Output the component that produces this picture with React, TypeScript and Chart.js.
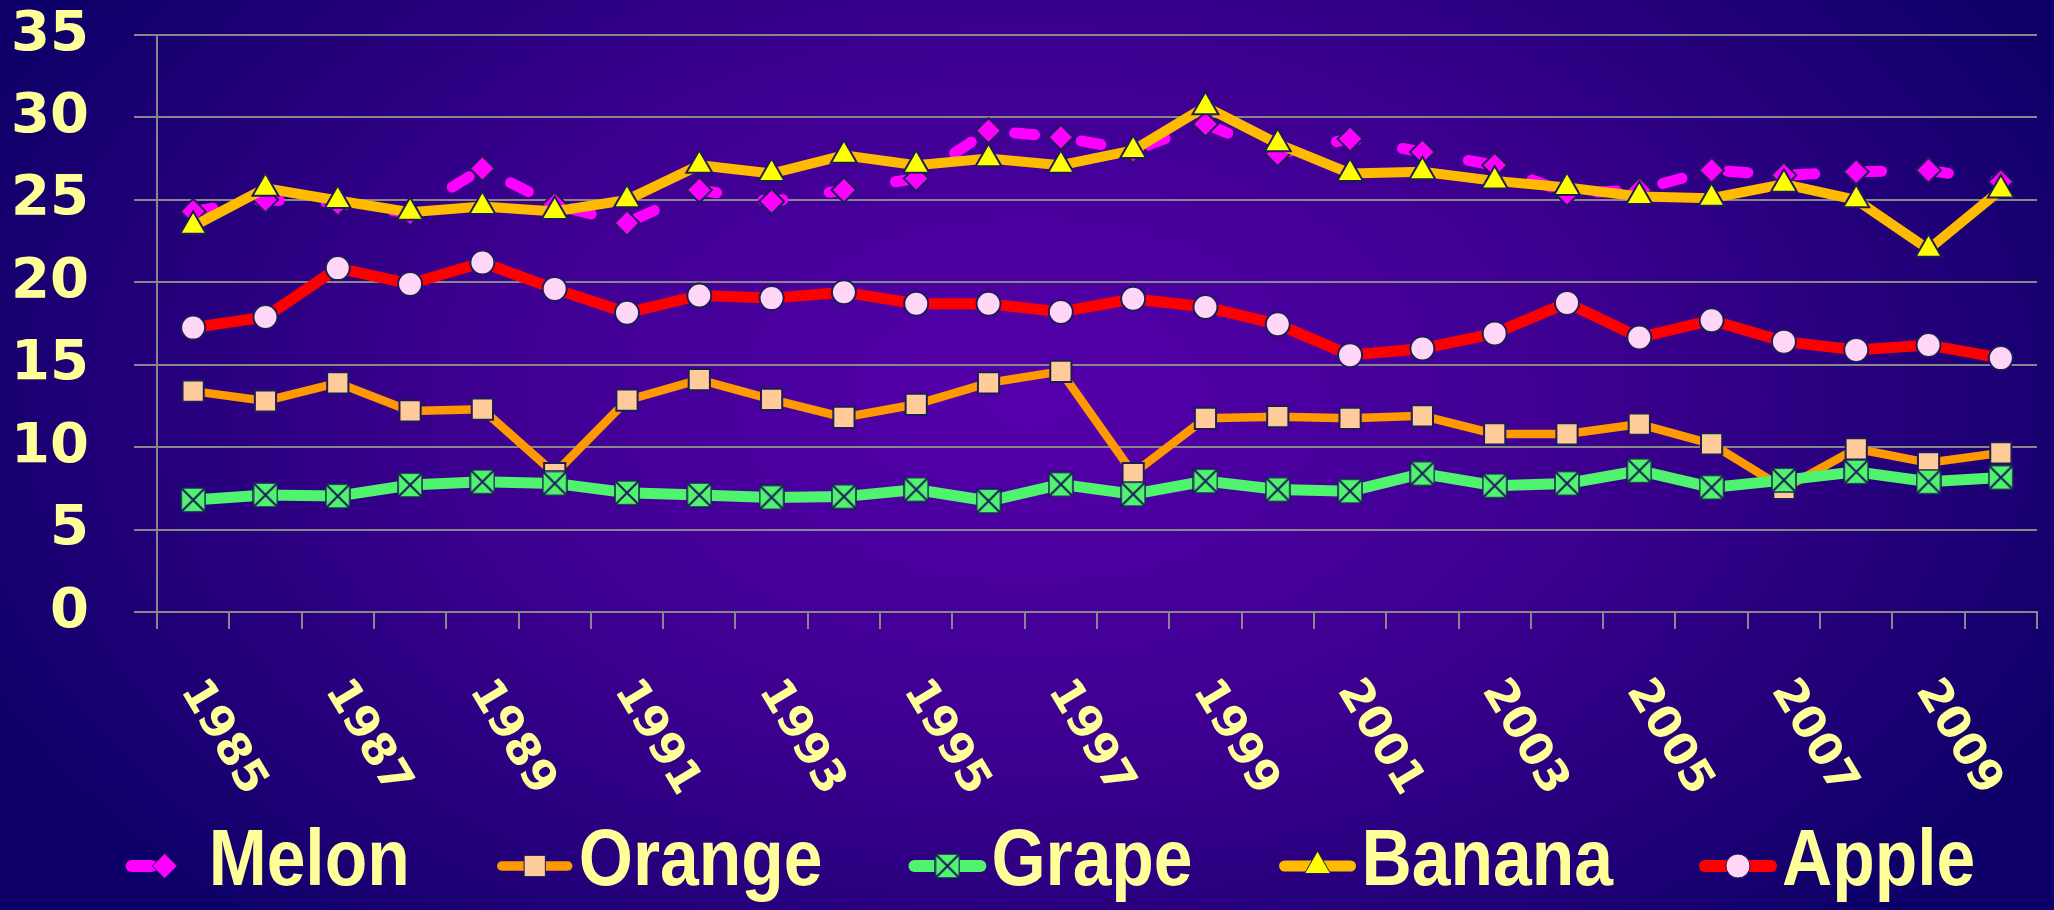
import React, { useEffect, useRef } from 'react';
import { Chart, registerables } from 'chart.js';
import { drawPoint } from 'chart.js/helpers';

Chart.register(...registerables);

// ---------- data ----------
const years = [
  '1985', '1986', '1987', '1988', '1989', '1990', '1991', '1992', '1993', '1994',
  '1995', '1996', '1997', '1998', '1999', '2000', '2001', '2002', '2003', '2004',
  '2005', '2006', '2007', '2008', '2009', '2010',
];
const xTickLabels = ['1985', '1987', '1989', '1991', '1993', '1995', '1997', '1999', '2001', '2003', '2005', '2007', '2009'];
const yTicks = [0, 5, 10, 15, 20, 25, 30, 35];

const melon = [24.3, 25.0, 24.8, 24.2, 26.9, 24.7, 23.6, 25.6, 24.9, 25.6, 26.3, 29.2, 28.8, 28.0, 29.6, 27.8, 28.7, 27.9, 27.1, 25.4, 25.6, 26.8, 26.5, 26.7, 26.8, 26.1];
const orange = [13.4, 12.8, 13.9, 12.2, 12.3, 8.4, 12.85, 14.1, 12.9, 11.8, 12.6, 13.9, 14.6, 8.4, 11.75, 11.85, 11.75, 11.9, 10.8, 10.8, 11.4, 10.2, 7.5, 9.9, 9.05, 9.65];
const grape = [6.8, 7.1, 7.03, 7.7, 7.9, 7.8, 7.23, 7.1, 6.95, 7.0, 7.43, 6.73, 7.74, 7.15, 7.94, 7.43, 7.33, 8.4, 7.66, 7.8, 8.57, 7.56, 8.0, 8.5, 7.9, 8.16];
const banana = [23.4, 25.7, 24.96, 24.25, 24.6, 24.3, 25.0, 27.1, 26.6, 27.7, 27.1, 27.5, 27.1, 28.0, 30.65, 28.4, 26.6, 26.7, 26.15, 25.75, 25.2, 25.1, 25.95, 25.0, 22.0, 25.6];
const apple = [17.25, 17.9, 20.86, 19.9, 21.2, 19.6, 18.15, 19.2, 19.04, 19.4, 18.7, 18.7, 18.2, 19.0, 18.5, 17.45, 15.58, 15.98, 16.9, 18.75, 16.65, 17.7, 16.4, 15.9, 16.2, 15.4];

// ---------- styles ----------
const TEXT = '#ffff99';
const GRID = '#888888';
const EDGE = '#1c1c5c';
const TICK_FONT = '"DejaVu Sans", sans-serif';
const LEGEND_FONT = 'bold 80px "Liberation Sans", Arial, sans-serif';
const LEGEND_SQUEEZE = 0.87;

function makeGrapeMarker(): HTMLCanvasElement {
  const c = document.createElement('canvas');
  c.width = 26;
  c.height = 26;
  const g = c.getContext('2d')!;
  g.fillStyle = '#4ff36d';
  g.fillRect(1, 1, 24, 24);
  g.strokeStyle = EDGE;
  g.lineWidth = 1.5;
  g.strokeRect(1, 1, 24, 24);
  g.lineWidth = 2;
  g.beginPath();
  g.moveTo(1.5, 1.5);
  g.lineTo(24.5, 24.5);
  g.moveTo(24.5, 1.5);
  g.lineTo(1.5, 24.5);
  g.stroke();
  return c;
}

const textPlugin = {
  id: 'textPlugin',
  afterDraw(chart: any) {
    const ctx: CanvasRenderingContext2D = chart.ctx;
    const xs = chart.scales.x;
    // rotated x labels
    ctx.save();
    ctx.fillStyle = TEXT;
    ctx.font = `bold 45px ${TICK_FONT}`;
    ctx.textAlign = 'left';
    ctx.textBaseline = 'middle';
    years.forEach((lab, i) => {
      if (!xTickLabels.includes(lab)) return;
      const x = xs.getPixelForValue(i);
      ctx.save();
      ctx.translate(x - 3, xs.top + 72);
      ctx.rotate((59 * Math.PI) / 180);
      ctx.fillText(lab, 0, 0);
      ctx.restore();
    });
    ctx.restore();

    // legend
    const dsets = chart.data.datasets;
    ctx.save();
    ctx.font = LEGEND_FONT;
    const markerW = 76;
    const gapText = 6;
    const itemGap = 87;
    const textW = dsets.map((d: any) => ctx.measureText(d.label).width * LEGEND_SQUEEZE);
    const widths = textW.map((w: number) => markerW + gapText + w);
    const total = widths.reduce((a: number, b: number) => a + b, 0) + itemGap * (dsets.length - 1);
    let x = 1051 - total / 2;
    const ly = 866;
    dsets.forEach((d: any, i: number) => {
      ctx.save();
      ctx.strokeStyle = d.borderColor;
      ctx.lineWidth = d.borderWidth + 1;
      ctx.lineCap = 'round';
      ctx.setLineDash(d.borderDash || []);
      ctx.beginPath();
      ctx.moveTo(x + 5, ly);
      ctx.lineTo(x + markerW - 5, ly);
      ctx.stroke();
      ctx.restore();
      ctx.save();
      ctx.fillStyle = d.pointBackgroundColor;
      ctx.strokeStyle = d.pointBorderColor;
      drawPoint(ctx, { pointStyle: d.pointStyle, radius: d.pointRadius, borderWidth: d.pointBorderWidth, rotation: 0 } as any, x + markerW / 2, ly);
      ctx.restore();
      ctx.save();
      ctx.fillStyle = TEXT;
      ctx.textAlign = 'left';
      ctx.textBaseline = 'middle';
      ctx.translate(x + markerW + gapText, ly - 3);
      ctx.scale(LEGEND_SQUEEZE, 1);
      ctx.fillText(d.label, 0, 0);
      ctx.restore();
      x += widths[i] + itemGap;
    });
    ctx.restore();
  },
};

export default function App() {
  const ref = useRef<HTMLCanvasElement | null>(null);

  useEffect(() => {
    document.body.style.margin = '0';
    const canvas = ref.current;
    if (!canvas) return;
    const grapeMarker = makeGrapeMarker();
    const chart = new Chart(canvas, {
      type: 'line',
      data: {
        labels: years,
        datasets: [
          {
            label: 'Melon',
            data: melon,
            borderColor: '#ff00ff',
            borderWidth: 11,
            borderDash: [20, 47],
            borderCapStyle: 'round',
            pointStyle: 'rectRot',
            pointRadius: 12.5,
            pointBackgroundColor: '#ff00ff',
            pointBorderColor: EDGE,
            pointBorderWidth: 2,
            tension: 0,
            order: 5,
          },
          {
            label: 'Orange',
            data: orange,
            borderColor: '#ff9900',
            borderWidth: 8.5,
            pointStyle: 'rect',
            pointRadius: 15,
            pointBackgroundColor: '#ffcc99',
            pointBorderColor: EDGE,
            pointBorderWidth: 2,
            tension: 0,
            order: 4,
          },
          {
            label: 'Grape',
            data: grape,
            borderColor: '#4ff36d',
            borderWidth: 11,
            pointStyle: grapeMarker as any,
            pointRadius: 12,
            pointBackgroundColor: '#4ff36d',
            pointBorderColor: EDGE,
            pointBorderWidth: 2,
            tension: 0,
            order: 3,
          },
          {
            label: 'Banana',
            data: banana,
            borderColor: '#ffbb00',
            borderWidth: 10,
            pointStyle: 'triangle',
            pointRadius: 15,
            pointBackgroundColor: '#ffff00',
            pointBorderColor: EDGE,
            pointBorderWidth: 2,
            tension: 0,
            order: 2,
          },
          {
            label: 'Apple',
            data: apple,
            borderColor: '#ff0000',
            borderWidth: 11,
            pointStyle: 'circle',
            pointRadius: 12,
            pointBackgroundColor: '#ffd6f6',
            pointBorderColor: EDGE,
            pointBorderWidth: 2,
            tension: 0,
            order: 1,
          },
        ],
      },
      options: {
        responsive: false,
        animation: false,
        layout: { padding: { top: 35, right: 15, left: 0, bottom: 0 } },
        plugins: {
          legend: { display: false },
          tooltip: { enabled: false },
        },
        scales: {
          x: {
            type: 'category',
            offset: true,
            grid: {
              offset: true,
              display: true,
              drawOnChartArea: false,
              drawTicks: true,
              tickLength: 17,
              color: GRID,
              lineWidth: 2,
            },
            border: { display: true, color: GRID, width: 2 },
            ticks: { display: false },
            afterFit: (s: any) => {
              s.height = 298;
              s.paddingLeft = 0;
              s.paddingRight = 0;
            },
          },
          y: {
            min: 0,
            max: 35,
            afterBuildTicks: (s: any) => {
              s.ticks = yTicks.map((v) => ({ value: v }));
            },
            ticks: {
              color: TEXT,
              font: { family: TICK_FONT, size: 56, weight: 'bold' },
              padding: 45,
            },
            grid: { color: GRID, lineWidth: 2, tickLength: 23, drawTicks: true },
            border: { display: true, color: GRID, width: 2 },
            afterFit: (s: any) => {
              s.width = 157;
              s.paddingTop = 0;
              s.paddingBottom = 0;
            },
          },
        },
      },
      plugins: [textPlugin],
    } as any);
    return () => chart.destroy();
  }, []);

  return (
    <div
      style={{
        width: 2054,
        height: 910,
        background:
          'radial-gradient(ellipse 1150px 720px at 1030px 400px, #5600ac 0%, #3c008f 50%, #0e0068 100%)',
      }}
    >
      <canvas ref={ref} width={2054} height={910} style={{ display: 'block', width: 2054, height: 910 }} />
    </div>
  );
}
